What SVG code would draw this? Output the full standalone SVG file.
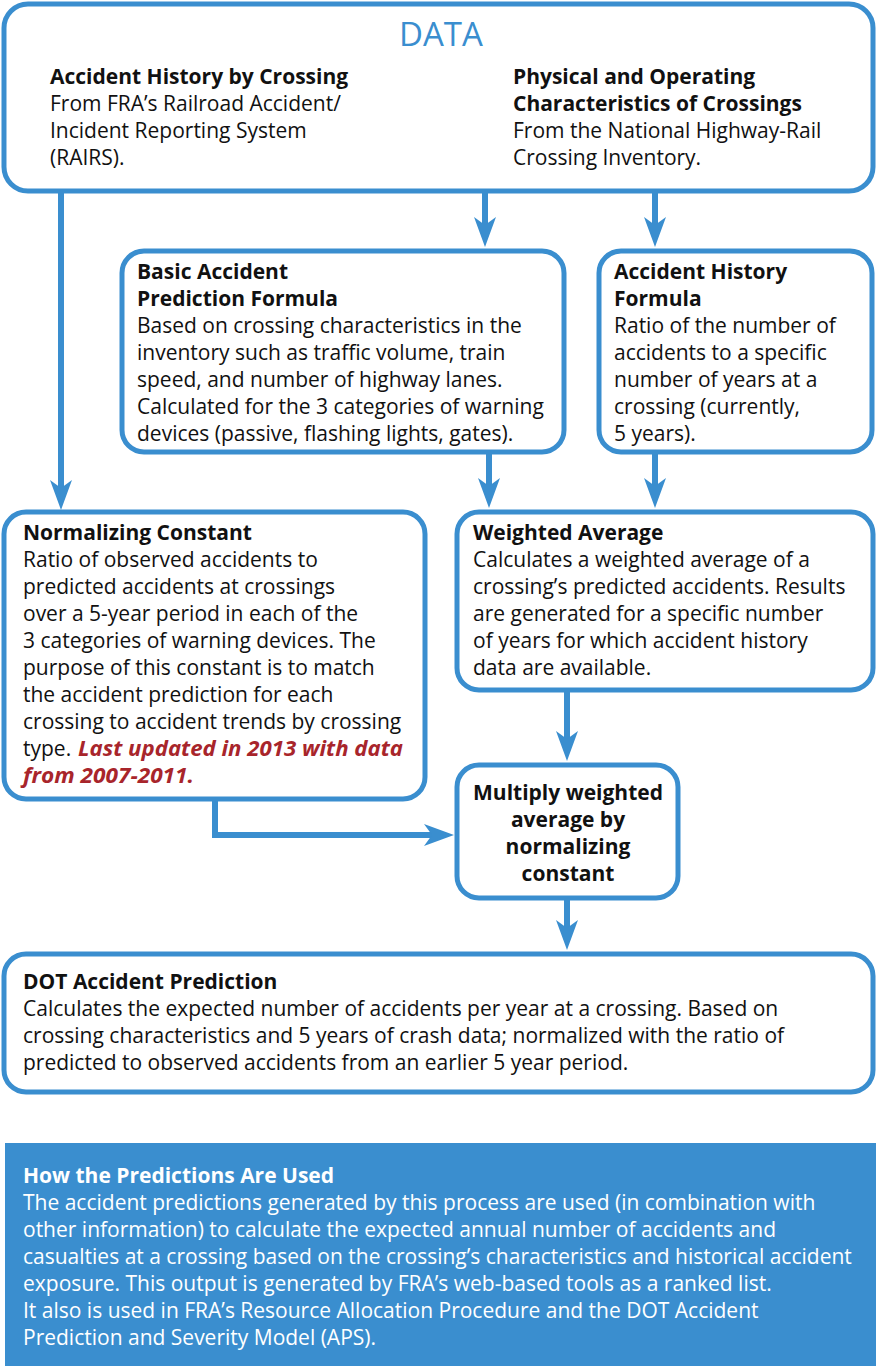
<svg xmlns="http://www.w3.org/2000/svg" width="877" height="1367" viewBox="0 0 877 1367">
<style>
.box{fill:#fff;stroke:#3a8ecf;stroke-width:5}
.t{font-family:"Open Sans","Noto Sans","Liberation Sans",sans-serif;font-size:21px;fill:#111}
.b{font-weight:bold}
.c{fill:none;stroke:#3a8ecf;stroke-width:6}
.red{fill:#a8252b;font-weight:bold;font-style:italic}
.w{fill:#fff}
</style>
<defs>
<marker id="ah" viewBox="0 0 30 22" refX="8" refY="11" markerWidth="30" markerHeight="22" markerUnits="userSpaceOnUse" orient="auto">
<path d="M0,0 L30,11 L0,22 L8,11 Z" fill="#3a8ecf"/>
</marker>
</defs>
<rect width="877" height="1367" fill="#fff"/>
<g id="connectors">
<path class="c" d="M61,192 V488" marker-end="url(#ah)"/>
<path class="c" d="M485,192 V225" marker-end="url(#ah)"/>
<path class="c" d="M655,192 V225" marker-end="url(#ah)"/>
<path class="c" d="M489,453 V486" marker-end="url(#ah)"/>
<path class="c" d="M655,453 V486" marker-end="url(#ah)"/>
<path class="c" d="M567,691 V739" marker-end="url(#ah)"/>
<path class="c" d="M215,800 V835 H432" marker-end="url(#ah)"/>
<path class="c" d="M567,899 V928" marker-end="url(#ah)"/>
</g>
<g id="data">
<rect class="box" x="4" y="4" width="869" height="187" rx="24"/>
<text x="441" y="46" text-anchor="middle" style="font-family:'Open Sans','Noto Sans',sans-serif;font-size:33px;fill:#3a8ecf">DATA</text>
<text class="t" x="50" y="84"><tspan class="b">Accident History by Crossing</tspan><tspan x="50" y="111">From FRA’s Railroad Accident/</tspan><tspan x="50" y="138">Incident Reporting System</tspan><tspan x="50" y="165">(RAIRS).</tspan></text>
<text class="t" x="513" y="84"><tspan class="b">Physical and Operating</tspan><tspan class="b" x="513" y="111">Characteristics of Crossings</tspan><tspan x="513" y="138">From the National Highway-Rail</tspan><tspan x="513" y="165">Crossing Inventory.</tspan></text>
</g>
<g id="basic">
<rect class="box" x="122" y="251" width="442" height="201" rx="22"/>
<text class="t" x="137" y="279"><tspan class="b">Basic Accident</tspan><tspan class="b" x="137" y="306">Prediction Formula</tspan><tspan x="137" y="333">Based on crossing characteristics in the</tspan><tspan x="137" y="360">inventory such as traffic volume, train</tspan><tspan x="137" y="387">speed, and number of highway lanes.</tspan><tspan x="137" y="414">Calculated for the 3 categories of warning</tspan><tspan x="137" y="441">devices (passive, flashing lights, gates).</tspan></text>
</g>
<g id="history">
<rect class="box" x="599" y="251" width="273" height="201" rx="22"/>
<text class="t" x="614" y="279"><tspan class="b">Accident History</tspan><tspan class="b" x="614" y="306">Formula</tspan><tspan x="614" y="333">Ratio of the number of</tspan><tspan x="614" y="360">accidents to a specific</tspan><tspan x="614" y="387">number of years at a</tspan><tspan x="614" y="414">crossing (currently,</tspan><tspan x="614" y="441">5 years).</tspan></text>
</g>
<g id="normalizing">
<rect class="box" x="4" y="512" width="421" height="287" rx="22"/>
<text class="t" x="23" y="540"><tspan class="b">Normalizing Constant</tspan><tspan x="23" y="567">Ratio of observed accidents to</tspan><tspan x="23" y="594">predicted accidents at crossings</tspan><tspan x="23" y="621">over a 5-year period in each of the</tspan><tspan x="23" y="648">3 categories of warning devices. The</tspan><tspan x="23" y="675">purpose of this constant is to match</tspan><tspan x="23" y="702">the accident prediction for each</tspan><tspan x="23" y="729">crossing to accident trends by crossing</tspan><tspan x="23" y="756">type.</tspan></text>
<text class="t red" x="78" y="756" textLength="325" lengthAdjust="spacingAndGlyphs">Last updated in 2013 with data</text>
<text class="t red" x="23" y="783" textLength="171" lengthAdjust="spacingAndGlyphs">from 2007-2011.</text>
</g>
<g id="weighted">
<rect class="box" x="457" y="512" width="416" height="178" rx="22"/>
<text class="t" x="473" y="540"><tspan class="b">Weighted Average</tspan><tspan x="473" y="567">Calculates a weighted average of a</tspan><tspan x="473" y="594">crossing’s predicted accidents. Results</tspan><tspan x="473" y="621">are generated for a specific number</tspan><tspan x="473" y="648">of years for which accident history</tspan><tspan x="473" y="675">data are available.</tspan></text>
</g>
<g id="multiply">
<rect class="box" x="457" y="765" width="221" height="133" rx="22"/>
<text class="t b" x="568" y="800" text-anchor="middle"><tspan x="568" y="800">Multiply weighted</tspan><tspan x="568" y="827">average by</tspan><tspan x="568" y="854">normalizing</tspan><tspan x="568" y="881">constant</tspan></text>
</g>
<g id="dot">
<rect class="box" x="4" y="954" width="869" height="138" rx="22"/>
<text class="t" x="23" y="989"><tspan class="b">DOT Accident Prediction</tspan><tspan x="23" y="1016">Calculates the expected number of accidents per year at a crossing. Based on</tspan><tspan x="23" y="1043">crossing characteristics and 5 years of crash data; normalized with the ratio of</tspan><tspan x="23" y="1070">predicted to observed accidents from an earlier 5 year period.</tspan></text>
</g>
<g id="usage">
<rect x="5" y="1143" width="871" height="223" fill="#3a8ecf"/>
<text class="t w" x="23" y="1183"><tspan class="b">How the Predictions Are Used</tspan><tspan x="23" y="1210">The accident predictions generated by this process are used (in combination with</tspan><tspan x="23" y="1237">other information) to calculate the expected annual number of accidents and</tspan><tspan x="23" y="1264">casualties at a crossing based on the crossing’s characteristics and historical accident</tspan><tspan x="23" y="1291">exposure. This output is generated by FRA’s web-based tools as a ranked list.</tspan><tspan x="23" y="1318">It also is used in FRA’s Resource Allocation Procedure and the DOT Accident</tspan><tspan x="23" y="1345">Prediction and Severity Model (APS).</tspan></text>
</g>
</svg>
